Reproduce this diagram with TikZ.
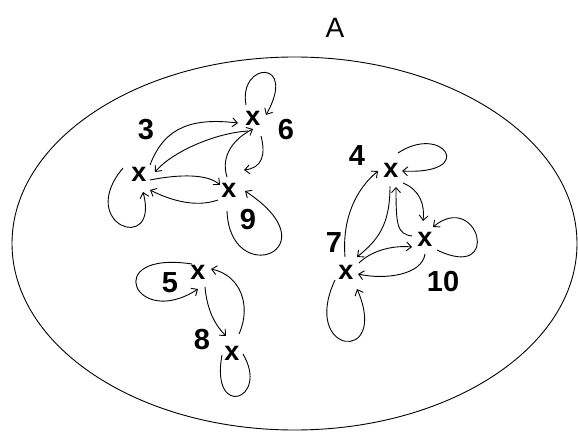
\documentclass[tikz,border=0pt]{standalone}
\usepackage{fontspec}
\setmainfont{Liberation Sans}
\usetikzlibrary{arrows.meta,calc,shapes.geometric}
\begin{document}
\begin{tikzpicture}[x=1pt,y=-1pt,
  mk/.style={font=\fontsize{27}{27}\selectfont\bfseries, inner sep=0pt},
  lab/.style={font=\fontsize{29}{29}\selectfont\bfseries, inner sep=0pt},
  edge/.style={line width=0.9pt},
  arr/.style={edge,-{Straight Barb[length=5pt,width=9pt]}}]
\useasboundingbox (0,0) rectangle (578,433);
\node[font=\fontsize{28}{28}\selectfont, inner sep=0pt] (A) at (335,28) {A};
\node[draw, ellipse, line width=0.9pt, inner sep=0pt, minimum width=565pt, minimum height=373pt] (set) at (294.5,243.5) {};
% markers
\node[mk] (n3) at (139,174) {x};
\node[mk] (n6) at (253,118) {x};
\node[mk] (n9) at (229,190) {x};
\node[mk] (n4) at (391,170) {x};
\node[mk] (n10) at (425,239) {x};
\node[mk] (n7) at (346,272) {x};
\node[mk] (n5) at (198,272) {x};
\node[mk] (n8) at (232,353) {x};
% labels
\node[lab] (l3) at (146,130) {3};
\node[lab] (l6) at (286,130) {6};
\node[lab] (l9) at (248,220) {9};
\node[lab] (l4) at (357,156) {4};
\node[lab] (l7) at (334,243) {7};
\node[lab] (l10) at (443,282) {10};
\node[lab] (l5) at (170,283) {5};
\node[lab] (l8) at (202,340) {8};
% cluster 3,6,9
\draw[arr] ($(n6)+(-7,-13)$) .. controls +(-8,-43) and +(32,-57) .. ($(n6)+(13,-3)$);
\draw[arr] ($(n3)+(11,-9)$) .. controls +(15,-40) and +(-43,-5) .. ($(n6)+(-15,5)$);
\draw[arr] ($(n6)+(-5,13)$) .. controls +(-33,2) and +(17,-20) .. ($(n3)+(16,-2)$);
\draw[arr] ($(n9)+(-2,-13)$) .. controls +(-7,-22) and +(-18,9) .. ($(n6)+(0,11)$);
\draw[arr] ($(n6)+(8,18)$) .. controls +(5,19) and +(18,-2) .. ($(n9)+(15,-20)$);
\draw[arr] ($(n3)+(11,6)$) .. controls +(30,-6) and +(-12,-11) .. ($(n9)+(-9,-5)$);
\draw[arr] ($(n9)+(-11,10)$) .. controls +(-23,8) and +(20,10) .. ($(n3)+(11,16)$);
\draw[arr] ($(n3)+(-16,-6)$) .. controls +(-48,57) and +(17,63) .. ($(n3)+(4,18)$);
\draw[arr] ($(n9)+(-2,21)$) .. controls +(3,79) and +(90,59) .. ($(n9)+(16,1)$);
% cluster 5,8
\draw[arr] ($(n5)+(-6,-8)$) .. controls +(-92,-14) and +(-63,41) .. ($(n5)+(0,17)$);
\draw[arr] ($(n5)+(7,15)$) .. controls +(2,23) and +(-11,-11) .. ($(n8)+(-6,-17)$);
\draw[arr] ($(n8)+(7,-19)$) .. controls +(13,-29) and +(29,6) .. ($(n5)+(13,-3)$);
\draw[edge] ($(n8)+(-10,2)$) .. controls +(-12,65) and +(27,46) .. ($(n8)+(11,1)$);
% cluster 4,7,10
\draw[arr] ($(n4)+(7,-17)$) .. controls +(45,-30) and +(76,4) .. ($(n4)+(11,1)$);
\draw[arr] ($(n4)+(12,13)$) .. controls +(17,7) and +(2,-16) .. ($(n10)+(-2,-18)$);
\draw[arr] ($(n10)+(-13,-3)$) .. controls +(-15,-2) and +(0,38) .. ($(n4)+(5,17)$);
\draw[arr] ($(n4)+(-1,16)$) .. controls +(0,39) and +(21,-17) .. ($(n7)+(11,-15)$);
\draw[arr] ($(n7)+(-1,-15)$) .. controls +(-3,-37) and +(-23,19) .. ($(n4)+(-13,1)$);
\draw[arr] ($(n7)+(13,-9)$) .. controls +(11,-11) and +(-22,-2) .. ($(n10)+(-13,8)$);
\draw[arr] ($(n10)+(0,15)$) .. controls +(-3,21) and +(27,6) .. ($(n7)+(12,2)$);
\draw[arr] ($(n10)+(12,11)$) .. controls +(66,32) and +(45,-37) .. ($(n10)+(8,-12)$);
\draw[arr] ($(n7)+(-11,8)$) .. controls +(-35,75) and +(33,76) .. ($(n7)+(11,17)$);
\end{tikzpicture}
\end{document}
